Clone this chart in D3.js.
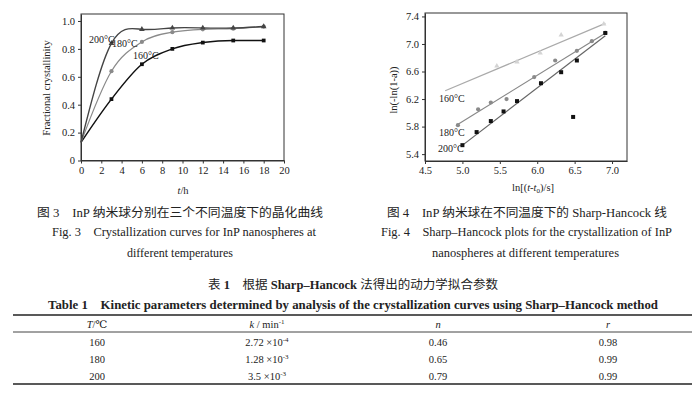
<!DOCTYPE html>
<html>
<head>
<meta charset="utf-8">
<script src="https://cdn.jsdelivr.net/npm/d3@7"></script>
<style>
  body { margin: 0; background: #fff; }
  text { font-family: 'Liberation Serif', 'DejaVu Serif', serif; fill: #222; white-space: pre; }
</style>
</head>
<body>
<script>
// fig 3 data: time (h) and fractional crystallinity
const hours = [0, 3, 6, 9, 12, 15, 18]
const cryst160 = [0.13, 0.44, 0.69, 0.80, 0.845, 0.86, 0.86]
const cryst180 = [0.13, 0.64, 0.85, 0.92, 0.94, 0.945, 0.96]
const cryst200 = [0.13, 0.84, 0.94, 0.95, 0.95, 0.95, 0.96]

// fig 4 data: ln(t-t0) vs ln(-ln(1-a))
const sh160x = [5.46, 5.73, 6.04, 6.32, 6.89]
const sh160y = [6.68, 6.74, 6.87, 7.13, 7.29]
const sh180x = [4.94, 5.21, 5.38, 5.59, 5.96, 6.24, 6.53, 6.73, 6.91]
const sh180y = [5.82, 6.05, 6.15, 6.20, 6.52, 6.76, 6.90, 7.04, 7.16]
const sh200x = [5.00, 5.19, 5.38, 5.55, 5.73, 6.05, 6.32, 6.53, 6.48, 6.91]
const sh200y = [5.53, 5.72, 5.88, 6.02, 6.17, 6.43, 6.59, 6.76, 5.94, 7.16]
// fitted line ends [x0, y0, x1, y1]
const fit160 = [4.77, 6.32, 6.91, 7.30]
const fit180 = [4.92, 5.82, 6.93, 7.17]
const fit200 = [4.99, 5.52, 6.91, 7.12]

// table 1
const tableT = ['160', '180', '200']
const tableK = [['2.72', '-4'], ['1.28', '-3'], ['3.5', '-3']]
const tableN = ['0.46', '0.65', '0.79']
const tableR = ['0.98', '0.99', '0.99']

const svg = d3.select('body').append('svg')
  .attr('width', 700)
  .attr('height', 395)
  .style('background', '#fff')

// ---------- Fig 3 ----------
const x1 = d3.scaleLinear().domain([0, 20]).range([81, 284])
const y1 = d3.scaleLinear().domain([0, 1.05]).range([160.5, 14])

const g1 = svg.append('g')
g1.append('g')
  .attr('transform', 'translate(0,160.5)')
  .call(d3.axisBottom(x1).tickValues(d3.range(0, 21, 2)).tickSize(3).tickSizeOuter(0))
g1.append('g')
  .attr('transform', 'translate(81,0)')
  .call(d3.axisLeft(y1).tickValues([0, 0.2, 0.4, 0.6, 0.8, 1.0]).tickFormat(d => d === 0 ? '0' : d3.format('.1f')(d)).tickSize(3).tickSizeOuter(0))
g1.append('rect')
  .attr('x', 81).attr('y', 14).attr('width', 203).attr('height', 146.5)
  .attr('fill', 'none').attr('stroke', '#333')
g1.selectAll('.tick text').attr('font-size', 10.5).attr('fill', '#222')
g1.selectAll('.domain, .tick line').attr('stroke', '#333')

const line1 = d3.line().curve(d3.curveMonotoneX).x(d => x1(d[0])).y(d => y1(d[1]))
const line1b = d3.line().curve(d3.curveNatural).x(d => x1(d[0])).y(d => y1(d[1]))
const series1 = [
  { v: cryst160, c: '#111', m: 'square', w: 1.5, lf: line1 },
  { v: cryst180, c: '#8a8a8a', m: 'circle', w: 1.2, lf: line1 },
  { v: cryst200, c: '#444', m: 'triangle', w: 1.4, lf: line1b },
]
series1.forEach(s => {
  const pts = hours.map((h, i) => [h, s.v[i]])
  g1.append('path').attr('d', s.lf(pts)).attr('fill', 'none').attr('stroke', s.c).attr('stroke-width', s.w)
  const sym = s.m === 'square' ? d3.symbolSquare : s.m === 'circle' ? d3.symbolCircle : d3.symbolTriangle
  g1.selectAll(null).data(pts.slice(1)).join('path')
    .attr('transform', d => `translate(${x1(d[0])},${y1(d[1])})`)
    .attr('d', d3.symbol(sym, 14))
    .attr('fill', s.c)
})
g1.append('text').attr('x', 89).attr('y', 43).attr('font-size', 10).text('200°C')
g1.append('text').attr('x', 112).attr('y', 47).attr('font-size', 10).text('180°C')
g1.append('text').attr('x', 133).attr('y', 59).attr('font-size', 10).text('160°C')

g1.append('text').attr('transform', 'translate(50,88) rotate(-90)')
  .attr('text-anchor', 'middle').attr('font-size', 10.5).text('Fractional crystallinity')
g1.append('text').attr('x', 183).attr('y', 194).attr('text-anchor', 'middle').attr('font-size', 10.5)
  .html('<tspan font-style="italic">t</tspan>/h')

// ---------- Fig 4 ----------
const x2 = d3.scaleLinear().domain([4.5, 7.2]).range([425, 627])
const y2 = d3.scaleLinear().domain([5.3, 7.45]).range([161, 13])

const g2 = svg.append('g')
g2.append('g')
  .attr('transform', 'translate(0,161)')
  .call(d3.axisBottom(x2).tickValues([4.5, 5.0, 5.5, 6.0, 6.5, 7.0]).tickFormat(d3.format('.1f')).tickSize(3).tickSizeOuter(0))
g2.append('g')
  .attr('transform', 'translate(425,0)')
  .call(d3.axisLeft(y2).tickValues([5.4, 5.8, 6.2, 6.6, 7.0, 7.4]).tickFormat(d3.format('.1f')).tickSize(3).tickSizeOuter(0))
g2.append('rect')
  .attr('x', 425).attr('y', 13).attr('width', 202).attr('height', 148)
  .attr('fill', 'none').attr('stroke', '#333')
g2.selectAll('.tick text').attr('font-size', 10.5).attr('fill', '#222')
g2.selectAll('.domain, .tick line').attr('stroke', '#333')

const series2 = [
  { xs: sh160x, ys: sh160y, fit: fit160, c: '#d4d4d4', lc: '#aaa', sym: d3.symbolTriangle, sz: 12 },
  { xs: sh180x, ys: sh180y, fit: fit180, c: '#8a8a8a', lc: '#888', sym: d3.symbolCircle, sz: 14 },
  { xs: sh200x, ys: sh200y, fit: fit200, c: '#111', lc: '#666', sym: d3.symbolSquare, sz: 16 },
]
series2.forEach(s => {
  g2.append('line')
    .attr('x1', x2(s.fit[0])).attr('y1', y2(s.fit[1]))
    .attr('x2', x2(s.fit[2])).attr('y2', y2(s.fit[3]))
    .attr('stroke', s.lc).attr('stroke-width', 1.2)
  g2.selectAll(null).data(s.xs.map((v, i) => [v, s.ys[i]])).join('path')
    .attr('transform', d => `translate(${x2(d[0])},${y2(d[1])})`)
    .attr('d', d3.symbol(s.sym, s.sz))
    .attr('fill', s.c)
})
g2.append('text').attr('x', 439).attr('y', 102).attr('font-size', 10).text('160°C')
g2.append('text').attr('x', 439).attr('y', 136).attr('font-size', 10).text('180°C')
g2.append('text').attr('x', 438).attr('y', 152).attr('font-size', 10).text('200°C')

g2.append('text').attr('transform', 'translate(397,90) rotate(-90)')
  .attr('text-anchor', 'middle').attr('font-size', 10.5).text('ln(-ln(1-a))')
g2.append('text').attr('x', 533).attr('y', 191).attr('text-anchor', 'middle').attr('font-size', 10.5)
  .html('ln[(<tspan font-style="italic">t</tspan>-<tspan font-style="italic">t</tspan><tspan font-size="7" dy="2">0</tspan><tspan dy="-2">)/s]</tspan>')

// ---------- captions ----------
const cjk = "'Noto Sans CJK SC', sans-serif"
function cap(x, y, len, html, size) {
  svg.append('text').attr('x', x).attr('y', y).attr('font-size', size || 11.5)
    .attr('textLength', len).attr('lengthAdjust', 'spacingAndGlyphs')
    .html(html)
}
cap(37, 217, 286, `<tspan font-family="${cjk}">图</tspan> 3    InP <tspan font-family="${cjk}">纳米球分别在三个不同温度下的晶化曲线</tspan>`, 12)
cap(52, 236, 264, 'Fig. 3    Crystallization curves for InP nanospheres at')
cap(127, 257, 106, 'different temperatures')
cap(387, 217, 280, `<tspan font-family="${cjk}">图</tspan> 4    InP <tspan font-family="${cjk}">纳米球在不同温度下的</tspan> Sharp-Hancock <tspan font-family="${cjk}">线</tspan>`, 12)
cap(381, 236, 291, 'Fig. 4    Sharp–Hancock plots for the crystallization of InP')
cap(432, 257, 187, 'nanospheres at different temperatures')

// ---------- table ----------
cap(208, 289, 290, `<tspan font-family="${cjk}">表</tspan> <tspan font-weight="bold">1</tspan>    <tspan font-family="${cjk}">根据</tspan> <tspan font-weight="bold">Sharp–Hancock</tspan> <tspan font-family="${cjk}">法得出的动力学拟合参数</tspan>`, 12)
svg.append('text').attr('x', 48).attr('y', 309).attr('font-size', 12).attr('font-weight', 'bold')
  .attr('textLength', 610).attr('lengthAdjust', 'spacingAndGlyphs')
  .text('Table 1    Kinetic parameters determined by analysis of the crystallization curves using Sharp–Hancock method')

svg.append('line').attr('x1', 13).attr('x2', 692).attr('y1', 315).attr('y2', 315).attr('stroke', '#222').attr('stroke-width', 1.6)
svg.append('line').attr('x1', 13).attr('x2', 692).attr('y1', 332).attr('y2', 332).attr('stroke', '#444').attr('stroke-width', 1)
svg.append('line').attr('x1', 13).attr('x2', 692).attr('y1', 384).attr('y2', 384).attr('stroke', '#222').attr('stroke-width', 1.6)

const colX = [97, 267, 438, 608]
const rowY = d3.scaleBand().domain(tableT).range([333, 385])
const hdr = svg.append('g')
hdr.append('text').attr('x', colX[0]).attr('y', 328).attr('text-anchor', 'middle').attr('font-size', 10.5)
  .html('<tspan font-style="italic">T</tspan>/℃')
hdr.append('text').attr('x', colX[1]).attr('y', 328).attr('text-anchor', 'middle').attr('font-size', 10.5)
  .html('<tspan font-style="italic">k</tspan> / min<tspan font-size="7" dy="-4">-1</tspan>')
hdr.append('text').attr('x', colX[2]).attr('y', 328).attr('text-anchor', 'middle').attr('font-size', 10.5).attr('font-style', 'italic').text('n')
hdr.append('text').attr('x', colX[3]).attr('y', 328).attr('text-anchor', 'middle').attr('font-size', 10.5).attr('font-style', 'italic').text('r')

tableT.forEach((t, i) => {
  const yy = rowY(t) + rowY.bandwidth() / 2 + 4
  const row = svg.append('g')
  row.append('text').attr('x', colX[0]).attr('y', yy).attr('text-anchor', 'middle').attr('font-size', 10.5).text(t)
  row.append('text').attr('x', colX[1]).attr('y', yy).attr('text-anchor', 'middle').attr('font-size', 10.5)
    .html(`${tableK[i][0]} ×10<tspan font-size="7" dy="-4">${tableK[i][1]}</tspan>`)
  row.append('text').attr('x', colX[2]).attr('y', yy).attr('text-anchor', 'middle').attr('font-size', 10.5).text(tableN[i])
  row.append('text').attr('x', colX[3]).attr('y', yy).attr('text-anchor', 'middle').attr('font-size', 10.5).text(tableR[i])
})
</script>
</body>
</html>
